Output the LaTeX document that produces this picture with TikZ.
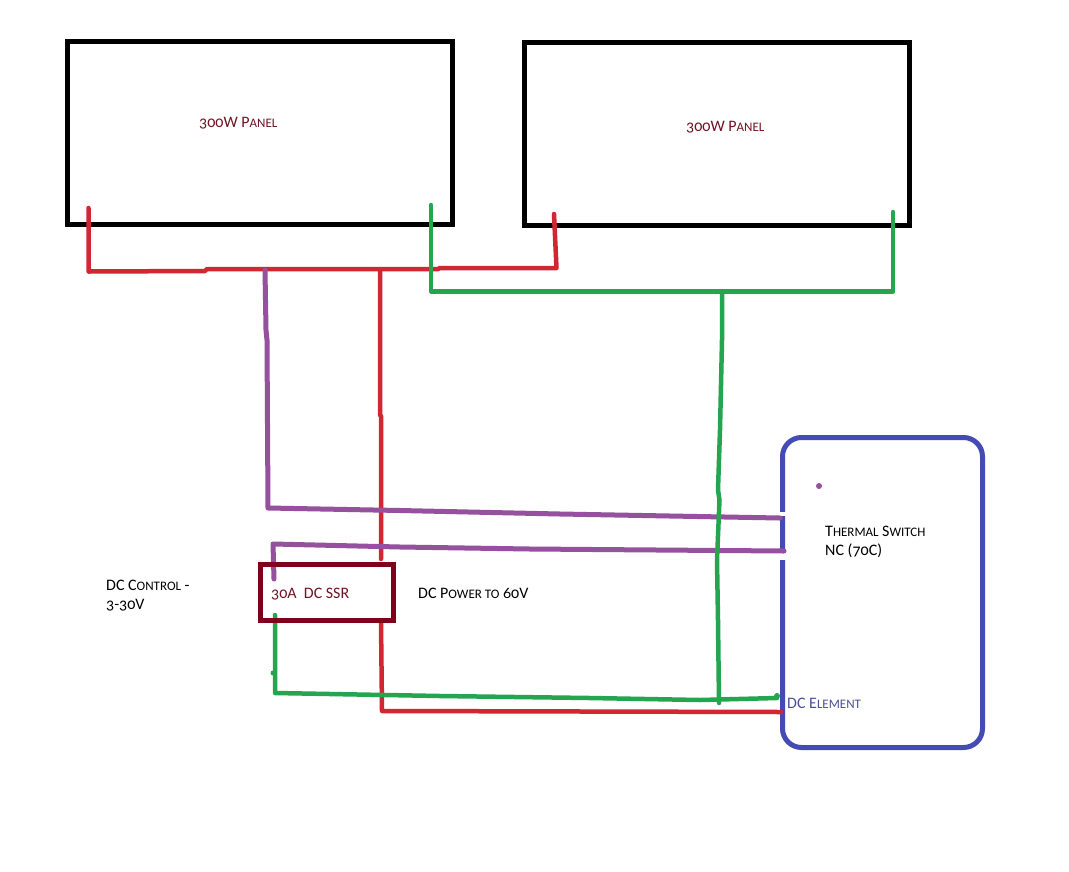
\documentclass[tikz,border=0pt]{standalone}
\usepackage{fontspec}
\setmainfont{Carlito}[Numbers=OldStyle]
\definecolor{wred}{RGB}{209,39,50}
\definecolor{wgreen}{RGB}{38,165,80}
\definecolor{wpurple}{RGB}{149,80,158}
\definecolor{wblue}{RGB}{68,76,180}
\definecolor{wdark}{RGB}{128,0,28}
\definecolor{ptext}{RGB}{110,20,35}
\definecolor{btext}{RGB}{75,80,150}
\newcommand{\sm}[1]{{\fontsize{13}{13}\selectfont #1}}
\tikzset{
  x=1pt,y=-1pt,
  panel/.style={draw=black,line width=4.5pt,minimum width=385pt,minimum height=183pt,inner sep=0pt},
  ssr/.style={draw=wdark,line width=5pt,minimum width=133pt,minimum height=56pt,inner sep=0pt},
  element/.style={draw=wblue,line width=5pt,rounded corners=19pt,minimum width=200pt,minimum height=310pt,inner sep=0pt},
  redw/.style={draw=wred,line width=4.5pt,line cap=round,line join=round},
  greenw/.style={draw=wgreen,line width=4.5pt,line cap=round,line join=round},
  purplew/.style={draw=wpurple,line width=5pt,line cap=round,line join=round},
  lab/.style={font=\fontsize{16}{19}\selectfont,inner sep=0pt,anchor=west,align=left,text=black},
  plab/.style={lab,text=ptext},
  blab/.style={lab,text=btext},
}
\begin{document}
\begin{tikzpicture}
\useasboundingbox (0,0) rectangle (1069,871);
\fill[white] (0,0) rectangle (1069,871);
% boxes
\node[panel] (p1) at (260,133) {};
\node[panel] (p2) at (717,134) {};
\node[element] (el) at (882.5,592.5) {};
\fill[white] (778,512) rectangle (787,516);
\fill[white] (778,553) rectangle (787,560);
% junction coordinates
\coordinate (r1) at (88.5,208);
\coordinate (r2) at (88.5,271.5);
\coordinate (r3) at (205,271);
\coordinate (r3b) at (207,269);
\coordinate (r4) at (438,269);
\coordinate (r4b) at (440,268);
\coordinate (r5) at (556.5,268);
\coordinate (r6) at (554,214);
\coordinate (g1) at (431,205);
\coordinate (g2) at (431,291.5);
\coordinate (g3) at (893,291.5);
\coordinate (g4) at (893,212);
% panel red
\draw[redw] (r1) -- (r2) -- (r3) -- (r3b) -- (r4) -- (r4b) -- (r5) -- (r6);
% panel green
\draw[greenw] (g1) -- (g2) -- (g3) -- (g4);
% red down
\draw[redw] (380,270) -- (380,415) -- (381,416) -- (381,559);
\draw[redw] (381,622) -- (382,711) -- (584,711.5) -- (781,712);
% purple
\draw[purplew] (265,270) -- (266,330) -- (267,340) -- (268,508) -- (400,510.5) -- (560,514) -- (780,518);
\draw[purplew] (274,579) -- (273,544) -- (400,547) -- (530,549) -- (784,551);
\fill[wpurple] (819,486) circle (3pt);
% green lines
\draw[greenw] (722,293) -- (722,340) -- (720,430) -- (718,490) -- (719.5,500) -- (717,560) -- (718,620) -- (719,703);
\draw[greenw] (275,615) -- (275,693) -- (440,696) -- (590,698) -- (700,700) -- (777,698);
\fill[wgreen] (273,673) circle (2.5pt);
\fill[wgreen] (777,696) circle (3pt);
% ssr
\node[ssr] (s) at (326.5,592) {};
% labels
\node[plab] (t1) at (199,123) {300W P\sm{ANEL}};
\node[plab] (t2) at (686,127) {300W P\sm{ANEL}};
\node[plab] (t3) at (271,594) {30A\ \ DC SSR};
\node[lab] (t4) at (418,593) {DC P\sm{OWER TO} 60V};
\node[lab] (t5) at (106,596) {DC C\sm{ONTROL} -\\3-30V};
\node[lab] (t6) at (825,542) {T\sm{HERMAL} S\sm{WITCH}\\NC (70C)};
\node[blab] (t7) at (787,703) {DC E\sm{LEMENT}};
\end{tikzpicture}
\end{document}
